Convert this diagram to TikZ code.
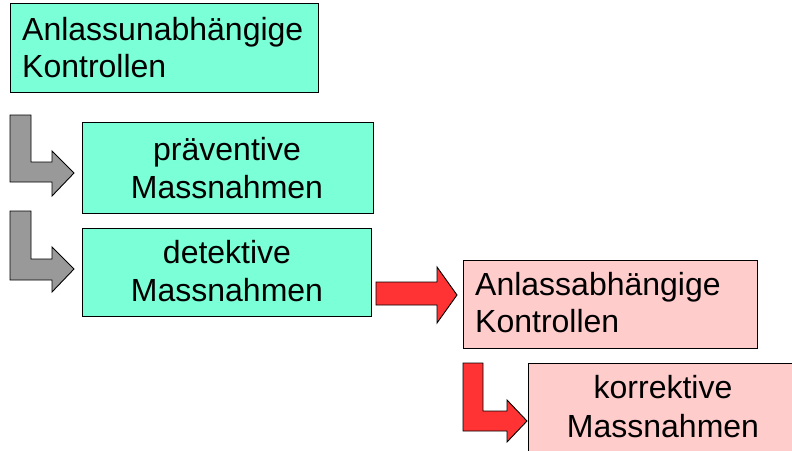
\documentclass[tikz,border=0pt]{standalone}
\usepackage{fontspec}
\setmainfont{Liberation Sans}
\definecolor{aqua}{RGB}{122,255,214}
\definecolor{rosa}{RGB}{255,204,204}
\definecolor{rot}{RGB}{255,51,51}
\definecolor{grau}{RGB}{153,153,153}
\begin{document}
\begin{tikzpicture}[x=1pt,y=-1pt,
  box/.style={draw=black,line width=1pt,rectangle,inner sep=0pt},
  lbl/.style={inner sep=0pt,font=\fontsize{32}{37}\selectfont,anchor=base},
  lblw/.style={lbl,anchor=base west},
  garrow/.style={fill=grau,draw=black,line width=0.9pt,line join=miter},
  rarrow/.style={fill=rot,draw=black,line width=0.9pt,line join=miter}]
\useasboundingbox (0,0) rectangle (792,450);
\clip (0,0) rectangle (792,450);
% boxes
\node[box,fill=aqua,minimum width=308pt,minimum height=89pt] (b0) at (164,47.5) {};
\node[box,fill=aqua,minimum width=291pt,minimum height=91pt] (b1) at (227.5,167.5) {};
\node[box,fill=aqua,minimum width=289pt,minimum height=88pt] (b2) at (226.5,272) {};
\node[box,fill=rosa,minimum width=294pt,minimum height=88pt] (b3) at (610,304) {};
\node[box,fill=rosa,minimum width=272pt,minimum height=97pt] (b4) at (664,411.5) {};
% texts
\node[lblw] (t1a) at (22,40) {Anlassunabhängige};
\node[lblw] (t1b) at (22,77) {Kontrollen};
\node[lbl] (t2a) at (227,160) {präventive};
\node[lbl] (t2b) at (227,198) {Massnahmen};
\node[lbl] (t3a) at (227,263) {detektive};
\node[lbl] (t3b) at (227,301) {Massnahmen};
\node[lblw] (t4a) at (475,295) {Anlassabhängige};
\node[lblw] (t4b) at (475,332) {Kontrollen};
\node[lbl] (t5a) at (663,398) {korrektive};
\node[lbl] (t5b) at (663,437) {Massnahmen};
% block arrows
\draw[garrow] (10,115) -- (31,115) -- (31,162) -- (52,162) -- (52,151) -- (74,173) -- (52,196) -- (52,182) -- (10,182) -- cycle;
\draw[garrow] (10,211) -- (31,211) -- (31,259) -- (52,259) -- (52,247) -- (74,269) -- (52,292) -- (52,280) -- (10,280) -- cycle;
\draw[rarrow] (376,282) -- (437,282) -- (437,267) -- (457,295) -- (437,323) -- (437,305) -- (376,305) -- cycle;
\draw[rarrow] (463,363) -- (483,363) -- (483,411) -- (507,411) -- (507,400) -- (527,421) -- (507,442) -- (507,431) -- (463,431) -- cycle;
\end{tikzpicture}
\end{document}
